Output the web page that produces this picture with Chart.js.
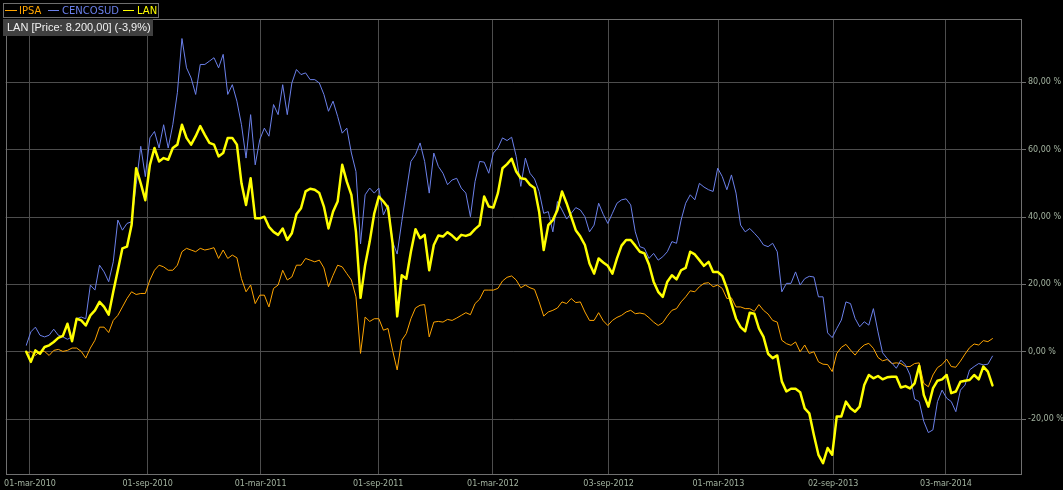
<!DOCTYPE html>
<html lang="en">

<head>
    <meta charset="UTF-8">
    <title>LAN vs IPSA vs CENCOSUD</title>
    <script src="https://cdn.jsdelivr.net/npm/chart.js@4.4.3/dist/chart.umd.min.js"></script>
    <style>
        body { margin: 0; background: #000; overflow: hidden; }
        .wrap { position: relative; width: 1063px; height: 490px; }
        canvas { display: block; }
        .legend {
            position: absolute; left: 3px; top: 3px; width: 154px; height: 13px;
            border: 1px solid #6e6e6e; background: #000;
            font: 10px "DejaVu Sans", sans-serif; line-height: 13px; white-space: nowrap;
        }
        .legend span { position: absolute; top: 0; }
        .legend i { position: absolute; top: 6px; height: 1px; }
        .info {
            position: absolute; left: 3px; top: 19px; width: 150px; height: 17px;
            background: #404040; color: #f0f0f0;
            font: 11px "Liberation Sans", Arial, sans-serif; line-height: 17px;
            padding-left: 4px; box-sizing: border-box; white-space: nowrap;
        }
    </style>
</head>

<body>
    <div class="wrap">
        <canvas id="mychart" width="1063" height="490"></canvas>
        <div class="legend">
            <i style="left:1px;width:12px;background:#ffa500"></i><span style="left:15px;color:#ffa500">IPSA</span>
            <i style="left:44px;width:11px;background:#6b80ea"></i><span style="left:58px;color:#6b80ea">CENCOSUD</span>
            <i style="left:119px;width:11px;background:#ffff00"></i><span style="left:133px;color:#ffff00">LAN</span>
        </div>
        <div class="info">LAN [Price: 8.200,00] (-3,9%)</div>
    </div>

    <script>
        // weekly samples, % change since first point (index 0 = late feb 2010)
        const lan = [
            0, -3, 0.4, -0.6, 1.4, 1.9, 2.9, 4.1, 4.7, 8.3,
            3.1, 9.8, 9.3, 7.8, 10.8, 12.3, 14.8, 13.3, 11.0, 17.8,
            24.2, 30.7, 31.2, 37.6, 54.5, 50, 45, 55.5, 60.5, 56.5,
            57.5, 57, 60.5, 61.5, 67.4, 63.5, 61.5, 64, 67, 64.4,
            62, 61.5, 58, 59, 63.5, 63.5, 61.5, 50, 43.6, 51.5,
            39.6, 39.6, 40.1, 37.1, 35.6, 34.7, 36.6, 33.2, 35.2, 40.8,
            42.6, 47.6, 48.4, 48.1, 47.1, 43.1, 36.6, 41.6, 44.6, 55.5,
            50.5, 46.6, 35.6, 16, 25.7, 32.7, 41.1, 46.1, 44.6, 42.8,
            32.2, 10.5, 22.7, 21.7, 29.7, 36.4, 33.7, 34.7, 24.2, 31.7,
            34.5, 34.2, 35.5, 34.5, 33.2, 34.7, 34.4, 34.9, 36.4, 37.6,
            46.1, 43.1, 42.8, 47.1, 54.5, 55.7, 57.3, 53.5, 51.5, 51.3,
            49.6, 48.6, 41.6, 30.2, 37.6, 39.1, 42.1, 47.6, 44.1, 40.1,
            36.1, 34.2, 31.7, 26.2, 23.2, 27.7, 26.5, 25.5, 23.2, 27.7,
            31.5, 33.2, 33.2, 31.5, 29.7, 29.2, 25.9, 20.8, 17.8, 16.3,
            20.8, 22.7, 21.5, 24.2, 24.9, 29.7, 28.9, 27.2, 25.5, 26.7,
            23.7, 23.7, 22.5, 18.8, 14.3, 9.8, 7.3, 6.1, 11.6, 11.3,
            6.9, 4.4, -0.6, -1.9, -1.1, -8.8, -11.8, -11, -11, -12,
            -16.8, -18.3, -24.7, -30.6, -33.1, -28.6, -30.6, -19.2, -19.2, -14.8,
            -16.8, -17.8, -16.3, -9.9, -6.9, -7.9, -7.2, -8.2, -7.6, -7.4,
            -7.4, -10.6, -10.2, -10.9, -9.4, -4.2, -12.8, -16.3, -10.9, -8.6,
            -8.2, -6.9, -12.3, -11.8, -8.9, -8.6, -8.4, -6.9, -8.2, -4.4,
            -5.9, -10
        ];
        const cencosud = [
            1.9, 5.9, 7.3, 4.9, 4.4, 4.9, 6.7, 4.9, 4.4, 3.7,
            4.4, 9.8, 10.3, 9.8, 19.8, 18.3, 25.7, 23.7, 20.8, 26.7,
            39.1, 36.1, 38.1, 38.6, 49.6, 61, 52, 63.5, 65.4, 60.5,
            67.4, 60.5, 67.4, 76.9, 93, 84.3, 81.3, 76.4, 85.3, 85.3,
            86.3, 87.3, 84.3, 88.3, 76.4, 79.3, 74.4, 67.4, 57.5, 70.4,
            55.5, 63, 66.4, 64, 73.4, 70.4, 79.3, 70.4, 79.8, 83.8,
            82.3, 82.8, 80.8, 80.8, 79.8, 76.4, 71.4, 74.4, 69.9, 64.9,
            66.4, 59, 53.5, 32, 46.6, 48.6, 47.1, 48.6, 40.6, 43.6,
            32.7, 29, 38.6, 47.6, 56.5, 58.5, 62, 56.5, 47.1, 59,
            55, 53, 49.6, 51, 51.5, 48.6, 47.1, 40.1, 50.5, 56.5,
            56.3, 53, 59, 60.5, 63.5, 62.7, 63.7, 58, 49.1, 57.5,
            53, 51.3, 47.6, 41.1, 41.6, 35.6, 44.6, 42.1, 39.4, 41.1,
            42.8, 42.1, 40.1, 35.6, 37.6, 44.1, 40.8, 38.1, 41.1, 44.1,
            45.1, 45.4, 43.6, 35.6, 31.2, 30.7, 27.7, 29.2, 27.2, 28.2,
            29.7, 32.7, 32.2, 39.1, 44.1, 46.6, 45.1, 50, 48.9, 48.1,
            47.6, 54.5, 52, 48.1, 52.5, 47.1, 37.6, 35.6, 36.6, 35.2,
            33.7, 31.7, 31.2, 32.2, 29.7, 17.8, 20.3, 20.3, 23.7, 19.8,
            21.7, 22.4, 22.2, 16.3, 16.3, 5.6, 4.2, 6.9, 9.4, 14.8,
            14.3, 9.9, 7.4, 8.9, 7.9, 12.8, 5.9, -0.3, -2, -3.3,
            -4.9, -2.5, -3.9, -6.9, -14.1, -14.8, -20.7, -24, -23.2, -14.8,
            -11.4, -13.8, -14.8, -17.8, -11.4, -9.9, -5.4, -4.4, -3.5, -3.9,
            -3.7, -1.3
        ];
        const ipsa = [
            -0.6, 0.1, -1.1, 0.1, 0.1, -1.1, 0.4, 0.7, 0.1, 0.4,
            1.1, 1.1, 0.1, -1.9, 1.1, 3.4, 7.3, 7.3, 5.7, 9.3,
            10.8, 13.3, 15.8, 17.8, 17, 17.3, 17.3, 21.3, 24.2, 25.7,
            25.2, 24.2, 24.2, 25.7, 29.7, 30.7, 30.2, 29.7, 30.7, 30.2,
            30.5, 30.9, 27.7, 30.2, 27.7, 28.7, 27.9, 21.7, 17.8, 19.8,
            14.3, 16.8, 16.8, 13.3, 18.8, 19.8, 24.2, 21.3, 22.2, 25.7,
            25.7, 27.7, 27.2, 26.7, 27.2, 24.9, 19.3, 22.7, 25.7, 25.2,
            23.2, 21.3, 16.3, -0.5, 10.3, 9, 9.8, 9.8, 6.4, 6.9,
            0.4, -5.4, 3.4, 5.4, 9.8, 13, 13.8, 14, 4.4, 8.8,
            9, 8.8, 9.6, 9.3, 10, 10.8, 11.6, 11, 14.3, 15.6,
            18.3, 18.3, 18.3, 18.8, 21, 22.1, 22.5, 21.3, 19, 19.8,
            19, 18.5, 14.8, 10.6, 11.8, 12.3, 13, 14.8, 14.3, 15.8,
            14.6, 14.8, 11.8, 9.3, 9.3, 11.6, 9.2, 7.8, 9.3, 10.2,
            10.8, 11.8, 12.3, 11.3, 11.5, 11.2, 10.1, 8.8, 7.8, 8.6,
            10.6, 12.3, 12.8, 14.8, 16.3, 18.1, 17.8, 19.3, 20.3, 20.5,
            19.3, 19.8, 18.8, 15.8, 16, 13.3, 13.3, 12.8, 12.8, 12,
            14, 12.3, 11.2, 9.3, 8.8, 3.4, 2.4, 1.9, 2.9, 0,
            2, -0.5, 0, -3, -3.7, -3.8, -5.9, -0.5, 1.3, 2.2,
            0.5, -1, 0.8, 2, 2.5, 1, -1.7, -2.7, -2.3, -3.5,
            -3.3, -3.5, -4.4, -4.4, -3.5, -3.3, -9.4, -10.4, -6.9, -4.7,
            -3.8, -2.2, -4.4, -4.6, -2.8, -0.7, 1.2, 2.3, 2, 3.3,
            3, 3.9
        ];

        // x axis (week index) and y axis ticks
        const xTickPos = [0.81, 26.51, 51.18, 76.86, 101.92, 127.17, 151.15, 176.21, 200.85];
        const xTickLabels = ['01-mar-2010', '01-sep-2010', '01-mar-2011', '01-sep-2011', '01-mar-2012',
            '03-sep-2012', '01-mar-2013', '02-sep-2013', '03-mar-2014'];
        const yTicks = [-20, 0, 20, 40, 60, 80];
        const yTickLabels = ['-20,00 %', '0,00 %', '20,00 %', '40,00 %', '60,00 %', '80,00 %'];

        const toPoints = arr => arr.map((v, i) => ({ x: i, y: v }));

        const gridColor = '#4d4d4d';
        const tickColor = '#a3b3a0';

        // frame around the plot
        const framePlugin = {
            id: 'frame',
            afterDraw(chart) {
                const a = chart.chartArea;
                const ctx = chart.ctx;
                ctx.save();
                ctx.strokeStyle = '#707070';
                ctx.lineWidth = 1;
                ctx.strokeRect(Math.round(a.left) + 0.5, Math.round(a.top) + 0.5,
                    Math.round(a.right - a.left) - 1, Math.round(a.bottom - a.top) - 1);
                ctx.restore();
            }
        };

        const bg = {
            id: 'bg',
            beforeDraw(chart) {
                chart.ctx.save();
                chart.ctx.fillStyle = '#000';
                chart.ctx.fillRect(0, 0, chart.width, chart.height);
                chart.ctx.restore();
            }
        };

        var mychart = new Chart(document.getElementById('mychart'), {
            type: 'line',
            data: {
                datasets: [
                    { label: 'LAN', data: toPoints(lan), borderColor: '#ffff00', borderWidth: 2.5, order: 0 },
                    { label: 'CENCOSUD', data: toPoints(cencosud), borderColor: '#6b80ea', borderWidth: 1, order: 1 },
                    { label: 'IPSA', data: toPoints(ipsa), borderColor: '#ffa500', borderWidth: 1, order: 2 }
                ]
            },
            options: {
                responsive: false,
                devicePixelRatio: 1,
                animation: false,
                events: [],
                elements: {
                    point: { radius: 0 },
                    line: { tension: 0, borderJoinStyle: 'round', borderCapStyle: 'round' }
                },
                layout: { padding: { left: 3, top: 19, right: 0, bottom: 0 } },
                plugins: { legend: { display: false }, tooltip: { enabled: false } },
                scales: {
                    x: {
                        type: 'linear',
                        min: -4.49,
                        max: 217.45,
                        afterBuildTicks: s => { s.ticks = xTickPos.map(v => ({ value: v })); },
                        afterFit: s => { s.height = 15; },
                        grid: { color: gridColor, drawTicks: false },
                        border: { display: false },
                        ticks: {
                            color: tickColor,
                            font: { family: 'DejaVu Sans', size: 8 },
                            padding: 4,
                            maxRotation: 0,
                            autoSkip: false,
                            callback: (v, i) => xTickLabels[i]
                        }
                    },
                    y: {
                        position: 'right',
                        min: -36.6,
                        max: 98.8,
                        afterBuildTicks: s => { s.ticks = yTicks.map(v => ({ value: v })); },
                        afterFit: s => { s.width = 41; },
                        grid: { color: gridColor, tickLength: 4, tickColor: '#707070' },
                        border: { display: false },
                        ticks: {
                            color: tickColor,
                            font: { family: 'DejaVu Sans', size: 8 },
                            padding: 2,
                            callback: (v, i) => yTickLabels[i]
                        }
                    }
                }
            },
            plugins: [bg, framePlugin]
        });
    </script>
</body>

</html>
